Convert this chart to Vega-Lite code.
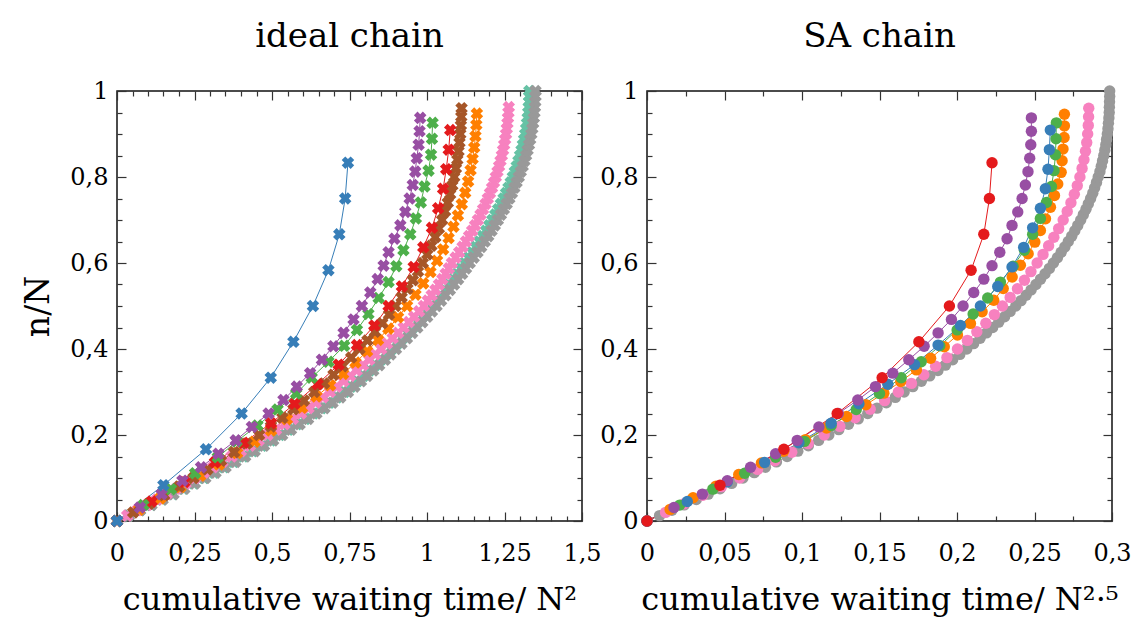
{
"$schema": "https://vega.github.io/schema/vega-lite/v6.json",
"background": "white",
"padding": {"left": 22, "top": 19, "right": 5, "bottom": 5},
"bounds": "flush",
"spacing": 65,
"config": {
  "font": "DejaVu Serif",
  "view": {"stroke": "#111111", "strokeWidth": 1.5},
  "axis": {"grid": false, "domain": false, "labelFont": "DejaVu Serif", "labelFontSize": 24, "labelColor": "black", "titleFont": "DejaVu Serif", "titleFontWeight": "normal", "titleColor": "black", "tickColor": "#333333", "tickWidth": 1.2, "labelOverlap": false, "labelFlush": false, "labelBound": false},
  "title": {"font": "DejaVu Serif", "fontSize": 34, "fontWeight": "normal", "color": "black"}
},
"datasets": {
"L": [
{"s":"t","x":0,"y":0},{"s":"t","x":0.0371,"y":0.0125},{"s":"t","x":0.0736,"y":0.025},{"s":"t","x":0.1096,"y":0.0375},{"s":"t","x":0.145,"y":0.05},{"s":"t","x":0.1798,"y":0.0625},{"s":"t","x":0.214,"y":0.075},{"s":"t","x":0.2476,"y":0.0875},{"s":"t","x":0.2807,"y":0.1},{"s":"t","x":0.3132,"y":0.1125},{"s":"t","x":0.3451,"y":0.125},{"s":"t","x":0.3765,"y":0.1375},{"s":"t","x":0.4073,"y":0.15},{"s":"t","x":0.4376,"y":0.1625},{"s":"t","x":0.4673,"y":0.175},{"s":"t","x":0.4964,"y":0.1875},{"s":"t","x":0.525,"y":0.2},{"s":"t","x":0.553,"y":0.2125},{"s":"t","x":0.5805,"y":0.225},{"s":"t","x":0.6074,"y":0.2375},{"s":"t","x":0.6338,"y":0.25},{"s":"t","x":0.6596,"y":0.2625},{"s":"t","x":0.6849,"y":0.275},{"s":"t","x":0.7097,"y":0.2875},{"s":"t","x":0.7339,"y":0.3},{"s":"t","x":0.7549,"y":0.3125},{"s":"t","x":0.7753,"y":0.325},{"s":"t","x":0.7952,"y":0.3375},{"s":"t","x":0.8145,"y":0.35},{"s":"t","x":0.8332,"y":0.3625},{"s":"t","x":0.8515,"y":0.375},{"s":"t","x":0.8692,"y":0.3875},{"s":"t","x":0.8865,"y":0.4},{"s":"t","x":0.9042,"y":0.4125},{"s":"t","x":0.9213,"y":0.425},{"s":"t","x":0.9381,"y":0.4375},{"s":"t","x":0.9544,"y":0.45},{"s":"t","x":0.9703,"y":0.4625},{"s":"t","x":0.9857,"y":0.475},{"s":"t","x":1.0008,"y":0.4875},{"s":"t","x":1.0154,"y":0.5},{"s":"t","x":1.03,"y":0.5125},{"s":"t","x":1.0441,"y":0.525},{"s":"t","x":1.0578,"y":0.5375},{"s":"t","x":1.0712,"y":0.55},{"s":"t","x":1.0842,"y":0.5625},{"s":"t","x":1.0969,"y":0.575},{"s":"t","x":1.1091,"y":0.5875},{"s":"t","x":1.1211,"y":0.6},{"s":"t","x":1.1337,"y":0.6125},{"s":"t","x":1.1457,"y":0.625},{"s":"t","x":1.1574,"y":0.6375},{"s":"t","x":1.1688,"y":0.65},{"s":"t","x":1.1798,"y":0.6625},{"s":"t","x":1.1903,"y":0.675},{"s":"t","x":1.2005,"y":0.6875},{"s":"t","x":1.2103,"y":0.7},{"s":"t","x":1.2201,"y":0.7125},{"s":"t","x":1.2294,"y":0.725},{"s":"t","x":1.2384,"y":0.7375},{"s":"t","x":1.2469,"y":0.75},{"s":"t","x":1.255,"y":0.7625},{"s":"t","x":1.2627,"y":0.775},{"s":"t","x":1.2699,"y":0.7875},{"s":"t","x":1.2768,"y":0.8},{"s":"t","x":1.2832,"y":0.8125},{"s":"t","x":1.2893,"y":0.825},{"s":"t","x":1.2949,"y":0.8375},{"s":"t","x":1.3001,"y":0.85},{"s":"t","x":1.3049,"y":0.8625},{"s":"t","x":1.3092,"y":0.875},{"s":"t","x":1.3132,"y":0.8875},{"s":"t","x":1.3167,"y":0.9},{"s":"t","x":1.3198,"y":0.9125},{"s":"t","x":1.3225,"y":0.925},{"s":"t","x":1.3248,"y":0.9375},{"s":"t","x":1.3267,"y":0.95},{"s":"t","x":1.3281,"y":0.9625},{"s":"t","x":1.3292,"y":0.975},{"s":"t","x":1.3298,"y":0.9875},{"s":"t","x":1.33,"y":1},
{"s":"a","x":0,"y":0},{"s":"a","x":0.0377,"y":0.0125},{"s":"a","x":0.0747,"y":0.025},{"s":"a","x":0.1113,"y":0.0375},{"s":"a","x":0.1472,"y":0.05},{"s":"a","x":0.1825,"y":0.0625},{"s":"a","x":0.2172,"y":0.075},{"s":"a","x":0.2514,"y":0.0875},{"s":"a","x":0.2849,"y":0.1},{"s":"a","x":0.3179,"y":0.1125},{"s":"a","x":0.3503,"y":0.125},{"s":"a","x":0.3822,"y":0.1375},{"s":"a","x":0.4135,"y":0.15},{"s":"a","x":0.4442,"y":0.1625},{"s":"a","x":0.4743,"y":0.175},{"s":"a","x":0.5039,"y":0.1875},{"s":"a","x":0.5329,"y":0.2},{"s":"a","x":0.5613,"y":0.2125},{"s":"a","x":0.5892,"y":0.225},{"s":"a","x":0.6165,"y":0.2375},{"s":"a","x":0.6433,"y":0.25},{"s":"a","x":0.6695,"y":0.2625},{"s":"a","x":0.6952,"y":0.275},{"s":"a","x":0.7203,"y":0.2875},{"s":"a","x":0.7449,"y":0.3},{"s":"a","x":0.7663,"y":0.3125},{"s":"a","x":0.787,"y":0.325},{"s":"a","x":0.8071,"y":0.3375},{"s":"a","x":0.8267,"y":0.35},{"s":"a","x":0.8458,"y":0.3625},{"s":"a","x":0.8643,"y":0.375},{"s":"a","x":0.8823,"y":0.3875},{"s":"a","x":0.8998,"y":0.4},{"s":"a","x":0.9178,"y":0.4125},{"s":"a","x":0.9352,"y":0.425},{"s":"a","x":0.9522,"y":0.4375},{"s":"a","x":0.9687,"y":0.45},{"s":"a","x":0.9849,"y":0.4625},{"s":"a","x":1.0006,"y":0.475},{"s":"a","x":1.0158,"y":0.4875},{"s":"a","x":1.0307,"y":0.5},{"s":"a","x":1.0454,"y":0.5125},{"s":"a","x":1.0598,"y":0.525},{"s":"a","x":1.0738,"y":0.5375},{"s":"a","x":1.0873,"y":0.55},{"s":"a","x":1.1005,"y":0.5625},{"s":"a","x":1.1133,"y":0.575},{"s":"a","x":1.1258,"y":0.5875},{"s":"a","x":1.1379,"y":0.6},{"s":"a","x":1.1507,"y":0.6125},{"s":"a","x":1.1629,"y":0.625},{"s":"a","x":1.1748,"y":0.6375},{"s":"a","x":1.1864,"y":0.65},{"s":"a","x":1.1975,"y":0.6625},{"s":"a","x":1.2082,"y":0.675},{"s":"a","x":1.2186,"y":0.6875},{"s":"a","x":1.2285,"y":0.7},{"s":"a","x":1.2384,"y":0.7125},{"s":"a","x":1.2479,"y":0.725},{"s":"a","x":1.257,"y":0.7375},{"s":"a","x":1.2656,"y":0.75},{"s":"a","x":1.2739,"y":0.7625},{"s":"a","x":1.2817,"y":0.775},{"s":"a","x":1.289,"y":0.7875},{"s":"a","x":1.296,"y":0.8},{"s":"a","x":1.3025,"y":0.8125},{"s":"a","x":1.3087,"y":0.825},{"s":"a","x":1.3144,"y":0.8375},{"s":"a","x":1.3196,"y":0.85},{"s":"a","x":1.3245,"y":0.8625},{"s":"a","x":1.3289,"y":0.875},{"s":"a","x":1.3329,"y":0.8875},{"s":"a","x":1.3365,"y":0.9},{"s":"a","x":1.3397,"y":0.9125},{"s":"a","x":1.3424,"y":0.925},{"s":"a","x":1.3447,"y":0.9375},{"s":"a","x":1.3466,"y":0.95},{"s":"a","x":1.3481,"y":0.9625},{"s":"a","x":1.3492,"y":0.975},{"s":"a","x":1.3498,"y":0.9875},{"s":"a","x":1.35,"y":1},
{"s":"k","x":0,"y":0},{"s":"k","x":0.033,"y":0.0125},{"s":"k","x":0.0655,"y":0.025},{"s":"k","x":0.0976,"y":0.0375},{"s":"k","x":0.1292,"y":0.05},{"s":"k","x":0.1603,"y":0.0625},{"s":"k","x":0.191,"y":0.075},{"s":"k","x":0.2213,"y":0.0875},{"s":"k","x":0.2511,"y":0.1},{"s":"k","x":0.2804,"y":0.1125},{"s":"k","x":0.3093,"y":0.125},{"s":"k","x":0.3398,"y":0.1375},{"s":"k","x":0.3698,"y":0.15},{"s":"k","x":0.3993,"y":0.1625},{"s":"k","x":0.4284,"y":0.175},{"s":"k","x":0.4571,"y":0.1875},{"s":"k","x":0.4853,"y":0.2},{"s":"k","x":0.513,"y":0.2125},{"s":"k","x":0.5403,"y":0.225},{"s":"k","x":0.5672,"y":0.2375},{"s":"k","x":0.5936,"y":0.25},{"s":"k","x":0.6176,"y":0.2625},{"s":"k","x":0.6411,"y":0.275},{"s":"k","x":0.6642,"y":0.2875},{"s":"k","x":0.6869,"y":0.3},{"s":"k","x":0.7091,"y":0.3125},{"s":"k","x":0.7308,"y":0.325},{"s":"k","x":0.7522,"y":0.3375},{"s":"k","x":0.7731,"y":0.35},{"s":"k","x":0.7935,"y":0.3625},{"s":"k","x":0.8135,"y":0.375},{"s":"k","x":0.8331,"y":0.3875},{"s":"k","x":0.8523,"y":0.4},{"s":"k","x":0.871,"y":0.4125},{"s":"k","x":0.8893,"y":0.425},{"s":"k","x":0.9071,"y":0.4375},{"s":"k","x":0.9246,"y":0.45},{"s":"k","x":0.9415,"y":0.4625},{"s":"k","x":0.9581,"y":0.475},{"s":"k","x":0.9742,"y":0.4875},{"s":"k","x":0.9899,"y":0.5},{"s":"k","x":1.0027,"y":0.5125},{"s":"k","x":1.0151,"y":0.525},{"s":"k","x":1.027,"y":0.5375},{"s":"k","x":1.0385,"y":0.55},{"s":"k","x":1.0496,"y":0.5625},{"s":"k","x":1.0603,"y":0.575},{"s":"k","x":1.0705,"y":0.5875},{"s":"k","x":1.0803,"y":0.6},{"s":"k","x":1.0922,"y":0.6125},{"s":"k","x":1.1037,"y":0.625},{"s":"k","x":1.1148,"y":0.6375},{"s":"k","x":1.1255,"y":0.65},{"s":"k","x":1.1357,"y":0.6625},{"s":"k","x":1.1456,"y":0.675},{"s":"k","x":1.155,"y":0.6875},{"s":"k","x":1.1641,"y":0.7},{"s":"k","x":1.1727,"y":0.7125},{"s":"k","x":1.1809,"y":0.725},{"s":"k","x":1.1888,"y":0.7375},{"s":"k","x":1.1962,"y":0.75},{"s":"k","x":1.2032,"y":0.7625},{"s":"k","x":1.2098,"y":0.775},{"s":"k","x":1.2161,"y":0.7875},{"s":"k","x":1.2219,"y":0.8},{"s":"k","x":1.2274,"y":0.8125},{"s":"k","x":1.2325,"y":0.825},{"s":"k","x":1.2372,"y":0.8375},{"s":"k","x":1.2415,"y":0.85},{"s":"k","x":1.2454,"y":0.8625},{"s":"k","x":1.2489,"y":0.875},{"s":"k","x":1.2521,"y":0.8875},{"s":"k","x":1.255,"y":0.9},{"s":"k","x":1.2574,"y":0.9125},{"s":"k","x":1.2595,"y":0.925},{"s":"k","x":1.2613,"y":0.9375},{"s":"k","x":1.2627,"y":0.95},{"s":"k","x":1.2637,"y":0.9625},
{"s":"o","x":0,"y":0},{"s":"o","x":0.0709,"y":0.0263},{"s":"o","x":0.1392,"y":0.0526},{"s":"o","x":0.205,"y":0.0789},{"s":"o","x":0.2683,"y":0.1053},{"s":"o","x":0.3291,"y":0.1316},{"s":"o","x":0.3874,"y":0.1579},{"s":"o","x":0.4433,"y":0.1842},{"s":"o","x":0.4968,"y":0.2105},{"s":"o","x":0.548,"y":0.2368},{"s":"o","x":0.5968,"y":0.2632},{"s":"o","x":0.6433,"y":0.2895},{"s":"o","x":0.6875,"y":0.3158},{"s":"o","x":0.7294,"y":0.3421},{"s":"o","x":0.7692,"y":0.3684},{"s":"o","x":0.8067,"y":0.3947},{"s":"o","x":0.8421,"y":0.4211},{"s":"o","x":0.8753,"y":0.4474},{"s":"o","x":0.9065,"y":0.4737},{"s":"o","x":0.9357,"y":0.5},{"s":"o","x":0.9628,"y":0.5263},{"s":"o","x":0.9879,"y":0.5526},{"s":"o","x":1.0111,"y":0.5789},{"s":"o","x":1.0324,"y":0.6053},{"s":"o","x":1.0519,"y":0.6316},{"s":"o","x":1.0696,"y":0.6579},{"s":"o","x":1.0855,"y":0.6842},{"s":"o","x":1.0997,"y":0.7105},{"s":"o","x":1.1122,"y":0.7368},{"s":"o","x":1.1232,"y":0.7632},{"s":"o","x":1.1326,"y":0.7895},{"s":"o","x":1.1406,"y":0.8158},{"s":"o","x":1.1471,"y":0.8421},{"s":"o","x":1.1523,"y":0.8684},{"s":"o","x":1.1563,"y":0.8947},{"s":"o","x":1.1591,"y":0.9211},{"s":"o","x":1.1609,"y":0.9474},
{"s":"n","x":0,"y":0},{"s":"n","x":0.0522,"y":0.02},{"s":"n","x":0.103,"y":0.04},{"s":"n","x":0.1523,"y":0.06},{"s":"n","x":0.2002,"y":0.08},{"s":"n","x":0.2466,"y":0.1},{"s":"n","x":0.2917,"y":0.12},{"s":"n","x":0.3354,"y":0.14},{"s":"n","x":0.3777,"y":0.16},{"s":"n","x":0.4186,"y":0.18},{"s":"n","x":0.4582,"y":0.2},{"s":"n","x":0.4964,"y":0.22},{"s":"n","x":0.5333,"y":0.24},{"s":"n","x":0.5689,"y":0.26},{"s":"n","x":0.6032,"y":0.28},{"s":"n","x":0.6362,"y":0.3},{"s":"n","x":0.6679,"y":0.32},{"s":"n","x":0.6984,"y":0.34},{"s":"n","x":0.7276,"y":0.36},{"s":"n","x":0.7555,"y":0.38},{"s":"n","x":0.7823,"y":0.4},{"s":"n","x":0.8079,"y":0.42},{"s":"n","x":0.8322,"y":0.44},{"s":"n","x":0.8554,"y":0.46},{"s":"n","x":0.8775,"y":0.48},{"s":"n","x":0.8984,"y":0.5},{"s":"n","x":0.9182,"y":0.52},{"s":"n","x":0.9368,"y":0.54},{"s":"n","x":0.9544,"y":0.56},{"s":"n","x":0.9709,"y":0.58},{"s":"n","x":0.9864,"y":0.6},{"s":"n","x":1.0008,"y":0.62},{"s":"n","x":1.0142,"y":0.64},{"s":"n","x":1.0267,"y":0.66},{"s":"n","x":1.0382,"y":0.68},{"s":"n","x":1.0487,"y":0.7},{"s":"n","x":1.0582,"y":0.72},{"s":"n","x":1.067,"y":0.74},{"s":"n","x":1.0747,"y":0.76},{"s":"n","x":1.0817,"y":0.78},{"s":"n","x":1.0879,"y":0.8},{"s":"n","x":1.0932,"y":0.82},{"s":"n","x":1.0978,"y":0.84},{"s":"n","x":1.1017,"y":0.86},{"s":"n","x":1.1048,"y":0.88},{"s":"n","x":1.1074,"y":0.9},{"s":"n","x":1.1093,"y":0.92},{"s":"n","x":1.1106,"y":0.94},{"s":"n","x":1.1115,"y":0.96},
{"s":"r","x":0,"y":0},{"s":"r","x":0.112,"y":0.0455},{"s":"r","x":0.2175,"y":0.0909},{"s":"r","x":0.316,"y":0.1364},{"s":"r","x":0.408,"y":0.1818},{"s":"r","x":0.497,"y":0.2273},{"s":"r","x":0.573,"y":0.2727},{"s":"r","x":0.647,"y":0.3182},{"s":"r","x":0.715,"y":0.3636},{"s":"r","x":0.774,"y":0.4091},{"s":"r","x":0.83,"y":0.4545},{"s":"r","x":0.876,"y":0.5},{"s":"r","x":0.919,"y":0.5455},{"s":"r","x":0.957,"y":0.5909},{"s":"r","x":0.988,"y":0.6364},{"s":"r","x":1.016,"y":0.6818},{"s":"r","x":1.036,"y":0.7273},{"s":"r","x":1.052,"y":0.7727},{"s":"r","x":1.062,"y":0.8182},{"s":"r","x":1.07,"y":0.8636},{"s":"r","x":1.075,"y":0.9091},
{"s":"g","x":0,"y":0},{"s":"g","x":0.085,"y":0.037},{"s":"g","x":0.174,"y":0.0741},{"s":"g","x":0.252,"y":0.1111},{"s":"g","x":0.325,"y":0.1481},{"s":"g","x":0.386,"y":0.1852},{"s":"g","x":0.453,"y":0.2222},{"s":"g","x":0.518,"y":0.2593},{"s":"g","x":0.578,"y":0.2963},{"s":"g","x":0.628,"y":0.3333},{"s":"g","x":0.682,"y":0.3704},{"s":"g","x":0.733,"y":0.4074},{"s":"g","x":0.774,"y":0.4444},{"s":"g","x":0.811,"y":0.4815},{"s":"g","x":0.844,"y":0.5185},{"s":"g","x":0.876,"y":0.5556},{"s":"g","x":0.901,"y":0.5926},{"s":"g","x":0.924,"y":0.6296},{"s":"g","x":0.946,"y":0.6667},{"s":"g","x":0.964,"y":0.7037},{"s":"g","x":0.98,"y":0.7407},{"s":"g","x":0.992,"y":0.7778},{"s":"g","x":1.005,"y":0.8148},{"s":"g","x":1.013,"y":0.8519},{"s":"g","x":1.016,"y":0.8889},{"s":"g","x":1.018,"y":0.9259},
{"s":"p","x":0,"y":0},{"s":"p","x":0.074,"y":0.0313},{"s":"p","x":0.144,"y":0.0625},{"s":"p","x":0.211,"y":0.0938},{"s":"p","x":0.271,"y":0.125},{"s":"p","x":0.327,"y":0.1563},{"s":"p","x":0.383,"y":0.1875},{"s":"p","x":0.435,"y":0.2188},{"s":"p","x":0.489,"y":0.25},{"s":"p","x":0.537,"y":0.2813},{"s":"p","x":0.58,"y":0.3125},{"s":"p","x":0.623,"y":0.3438},{"s":"p","x":0.661,"y":0.375},{"s":"p","x":0.698,"y":0.4063},{"s":"p","x":0.731,"y":0.4375},{"s":"p","x":0.763,"y":0.4688},{"s":"p","x":0.79,"y":0.5},{"s":"p","x":0.817,"y":0.5313},{"s":"p","x":0.841,"y":0.5625},{"s":"p","x":0.86,"y":0.5938},{"s":"p","x":0.876,"y":0.625},{"s":"p","x":0.895,"y":0.6563},{"s":"p","x":0.914,"y":0.6875},{"s":"p","x":0.93,"y":0.7188},{"s":"p","x":0.944,"y":0.75},{"s":"p","x":0.954,"y":0.7813},{"s":"p","x":0.962,"y":0.8125},{"s":"p","x":0.967,"y":0.8438},{"s":"p","x":0.973,"y":0.875},{"s":"p","x":0.976,"y":0.9063},{"s":"p","x":0.978,"y":0.9375},
{"s":"b","x":0,"y":0},{"s":"b","x":0.1496,"y":0.0833},{"s":"b","x":0.287,"y":0.1667},{"s":"b","x":0.402,"y":0.25},{"s":"b","x":0.496,"y":0.3333},{"s":"b","x":0.569,"y":0.4167},{"s":"b","x":0.632,"y":0.5},{"s":"b","x":0.682,"y":0.5833},{"s":"b","x":0.717,"y":0.6667},{"s":"b","x":0.736,"y":0.75},{"s":"b","x":0.745,"y":0.8333}
],
"R": [
{"s":"a","x":0,"y":0},{"s":"a","x":0.0081,"y":0.0125},{"s":"a","x":0.0161,"y":0.025},{"s":"a","x":0.024,"y":0.0375},{"s":"a","x":0.0318,"y":0.05},{"s":"a","x":0.0395,"y":0.0625},{"s":"a","x":0.0471,"y":0.075},{"s":"a","x":0.0546,"y":0.0875},{"s":"a","x":0.0619,"y":0.1},{"s":"a","x":0.0692,"y":0.1125},{"s":"a","x":0.0764,"y":0.125},{"s":"a","x":0.0835,"y":0.1375},{"s":"a","x":0.0904,"y":0.15},{"s":"a","x":0.0973,"y":0.1625},{"s":"a","x":0.1041,"y":0.175},{"s":"a","x":0.1107,"y":0.1875},{"s":"a","x":0.1173,"y":0.2},{"s":"a","x":0.1237,"y":0.2125},{"s":"a","x":0.13,"y":0.225},{"s":"a","x":0.1363,"y":0.2375},{"s":"a","x":0.1424,"y":0.25},{"s":"a","x":0.1484,"y":0.2625},{"s":"a","x":0.1544,"y":0.275},{"s":"a","x":0.1602,"y":0.2875},{"s":"a","x":0.1659,"y":0.3},{"s":"a","x":0.1715,"y":0.3125},{"s":"a","x":0.177,"y":0.325},{"s":"a","x":0.1824,"y":0.3375},{"s":"a","x":0.1877,"y":0.35},{"s":"a","x":0.1925,"y":0.3625},{"s":"a","x":0.1972,"y":0.375},{"s":"a","x":0.2018,"y":0.3875},{"s":"a","x":0.2063,"y":0.4},{"s":"a","x":0.2107,"y":0.4125},{"s":"a","x":0.2149,"y":0.425},{"s":"a","x":0.219,"y":0.4375},{"s":"a","x":0.223,"y":0.45},{"s":"a","x":0.2269,"y":0.4625},{"s":"a","x":0.2307,"y":0.475},{"s":"a","x":0.2343,"y":0.4875},{"s":"a","x":0.2379,"y":0.5},{"s":"a","x":0.2413,"y":0.5125},{"s":"a","x":0.2446,"y":0.525},{"s":"a","x":0.2478,"y":0.5375},{"s":"a","x":0.2509,"y":0.55},{"s":"a","x":0.2539,"y":0.5625},{"s":"a","x":0.2568,"y":0.575},{"s":"a","x":0.2596,"y":0.5875},{"s":"a","x":0.2622,"y":0.6},{"s":"a","x":0.2648,"y":0.6125},{"s":"a","x":0.2672,"y":0.625},{"s":"a","x":0.2696,"y":0.6375},{"s":"a","x":0.2718,"y":0.65},{"s":"a","x":0.274,"y":0.6625},{"s":"a","x":0.276,"y":0.675},{"s":"a","x":0.2779,"y":0.6875},{"s":"a","x":0.2798,"y":0.7},{"s":"a","x":0.2815,"y":0.7125},{"s":"a","x":0.2832,"y":0.725},{"s":"a","x":0.2847,"y":0.7375},{"s":"a","x":0.2862,"y":0.75},{"s":"a","x":0.2876,"y":0.7625},{"s":"a","x":0.2888,"y":0.775},{"s":"a","x":0.29,"y":0.7875},{"s":"a","x":0.2911,"y":0.8},{"s":"a","x":0.2922,"y":0.8125},{"s":"a","x":0.2931,"y":0.825},{"s":"a","x":0.2939,"y":0.8375},{"s":"a","x":0.2947,"y":0.85},{"s":"a","x":0.2954,"y":0.8625},{"s":"a","x":0.296,"y":0.875},{"s":"a","x":0.2965,"y":0.8875},{"s":"a","x":0.297,"y":0.9},{"s":"a","x":0.2974,"y":0.9125},{"s":"a","x":0.2977,"y":0.925},{"s":"a","x":0.298,"y":0.9375},{"s":"a","x":0.2982,"y":0.95},{"s":"a","x":0.2983,"y":0.9625},{"s":"a","x":0.2984,"y":0.975},{"s":"a","x":0.2985,"y":0.9875},{"s":"a","x":0.2985,"y":1},
{"s":"k","x":0,"y":0},{"s":"k","x":0.012,"y":0.02},{"s":"k","x":0.024,"y":0.04},{"s":"k","x":0.036,"y":0.06},{"s":"k","x":0.048,"y":0.08},{"s":"k","x":0.0598,"y":0.1},{"s":"k","x":0.0713,"y":0.12},{"s":"k","x":0.0825,"y":0.14},{"s":"k","x":0.0934,"y":0.16},{"s":"k","x":0.104,"y":0.18},{"s":"k","x":0.1143,"y":0.2},{"s":"k","x":0.1244,"y":0.22},{"s":"k","x":0.1343,"y":0.24},{"s":"k","x":0.144,"y":0.26},{"s":"k","x":0.1533,"y":0.28},{"s":"k","x":0.1622,"y":0.3},{"s":"k","x":0.1706,"y":0.32},{"s":"k","x":0.1786,"y":0.34},{"s":"k","x":0.1862,"y":0.36},{"s":"k","x":0.1935,"y":0.38},{"s":"k","x":0.2003,"y":0.4},{"s":"k","x":0.2067,"y":0.42},{"s":"k","x":0.2128,"y":0.44},{"s":"k","x":0.2186,"y":0.46},{"s":"k","x":0.2241,"y":0.48},{"s":"k","x":0.2293,"y":0.5},{"s":"k","x":0.2343,"y":0.52},{"s":"k","x":0.239,"y":0.54},{"s":"k","x":0.2435,"y":0.56},{"s":"k","x":0.2477,"y":0.58},{"s":"k","x":0.2517,"y":0.6},{"s":"k","x":0.2555,"y":0.62},{"s":"k","x":0.2591,"y":0.64},{"s":"k","x":0.2625,"y":0.66},{"s":"k","x":0.2656,"y":0.68},{"s":"k","x":0.2685,"y":0.7},{"s":"k","x":0.2711,"y":0.72},{"s":"k","x":0.2735,"y":0.74},{"s":"k","x":0.2757,"y":0.76},{"s":"k","x":0.2776,"y":0.78},{"s":"k","x":0.2793,"y":0.8},{"s":"k","x":0.2807,"y":0.82},{"s":"k","x":0.2819,"y":0.84},{"s":"k","x":0.2829,"y":0.86},{"s":"k","x":0.2837,"y":0.88},{"s":"k","x":0.2843,"y":0.9},{"s":"k","x":0.2847,"y":0.92},{"s":"k","x":0.2849,"y":0.94},{"s":"k","x":0.285,"y":0.96},
{"s":"o","x":0,"y":0},{"s":"o","x":0.0149,"y":0.027},{"s":"o","x":0.0297,"y":0.0541},{"s":"o","x":0.0445,"y":0.0811},{"s":"o","x":0.0592,"y":0.1081},{"s":"o","x":0.0738,"y":0.1351},{"s":"o","x":0.0882,"y":0.1622},{"s":"o","x":0.1022,"y":0.1892},{"s":"o","x":0.1158,"y":0.2162},{"s":"o","x":0.1288,"y":0.2432},{"s":"o","x":0.1412,"y":0.2703},{"s":"o","x":0.1528,"y":0.2973},{"s":"o","x":0.1637,"y":0.3243},{"s":"o","x":0.1738,"y":0.3514},{"s":"o","x":0.183,"y":0.3784},{"s":"o","x":0.1918,"y":0.4054},{"s":"o","x":0.2003,"y":0.4324},{"s":"o","x":0.2087,"y":0.4595},{"s":"o","x":0.2162,"y":0.4865},{"s":"o","x":0.2237,"y":0.5135},{"s":"o","x":0.2298,"y":0.5405},{"s":"o","x":0.2356,"y":0.5676},{"s":"o","x":0.2409,"y":0.5946},{"s":"o","x":0.2459,"y":0.6216},{"s":"o","x":0.2502,"y":0.6486},{"s":"o","x":0.2538,"y":0.6757},{"s":"o","x":0.2571,"y":0.7027},{"s":"o","x":0.2603,"y":0.7297},{"s":"o","x":0.2629,"y":0.7568},{"s":"o","x":0.265,"y":0.7838},{"s":"o","x":0.2672,"y":0.8108},{"s":"o","x":0.2678,"y":0.8378},{"s":"o","x":0.2684,"y":0.8649},{"s":"o","x":0.2691,"y":0.8919},{"s":"o","x":0.2693,"y":0.9189},{"s":"o","x":0.2693,"y":0.9459},
{"s":"g","x":0,"y":0},{"s":"g","x":0.0211,"y":0.037},{"s":"g","x":0.0425,"y":0.0741},{"s":"g","x":0.063,"y":0.1111},{"s":"g","x":0.083,"y":0.1481},{"s":"g","x":0.1016,"y":0.1852},{"s":"g","x":0.1188,"y":0.2222},{"s":"g","x":0.135,"y":0.2593},{"s":"g","x":0.15,"y":0.2963},{"s":"g","x":0.164,"y":0.3333},{"s":"g","x":0.1769,"y":0.3704},{"s":"g","x":0.1889,"y":0.4074},{"s":"g","x":0.2001,"y":0.4444},{"s":"g","x":0.2104,"y":0.4815},{"s":"g","x":0.2198,"y":0.5185},{"s":"g","x":0.228,"y":0.5556},{"s":"g","x":0.2362,"y":0.5926},{"s":"g","x":0.2435,"y":0.6296},{"s":"g","x":0.2488,"y":0.6667},{"s":"g","x":0.2538,"y":0.7037},{"s":"g","x":0.2577,"y":0.7407},{"s":"g","x":0.2609,"y":0.7778},{"s":"g","x":0.2626,"y":0.8148},{"s":"g","x":0.2635,"y":0.8519},{"s":"g","x":0.2639,"y":0.8889},{"s":"g","x":0.2641,"y":0.9259},
{"s":"b","x":0,"y":0},{"s":"b","x":0.026,"y":0.0455},{"s":"b","x":0.0518,"y":0.0909},{"s":"b","x":0.0759,"y":0.1364},{"s":"b","x":0.098,"y":0.1818},{"s":"b","x":0.1188,"y":0.2273},{"s":"b","x":0.1367,"y":0.2727},{"s":"b","x":0.1554,"y":0.3182},{"s":"b","x":0.1726,"y":0.3636},{"s":"b","x":0.1878,"y":0.4091},{"s":"b","x":0.2022,"y":0.4545},{"s":"b","x":0.2151,"y":0.5},{"s":"b","x":0.2263,"y":0.5455},{"s":"b","x":0.2355,"y":0.5909},{"s":"b","x":0.243,"y":0.6364},{"s":"b","x":0.2488,"y":0.6818},{"s":"b","x":0.2538,"y":0.7273},{"s":"b","x":0.257,"y":0.7727},{"s":"b","x":0.2587,"y":0.8182},{"s":"b","x":0.2596,"y":0.8636},{"s":"b","x":0.2602,"y":0.9091},
{"s":"p","x":0,"y":0},{"s":"p","x":0.0174,"y":0.0313},{"s":"p","x":0.0357,"y":0.0625},{"s":"p","x":0.0518,"y":0.0938},{"s":"p","x":0.0668,"y":0.125},{"s":"p","x":0.083,"y":0.1563},{"s":"p","x":0.0969,"y":0.1875},{"s":"p","x":0.1109,"y":0.2188},{"s":"p","x":0.1234,"y":0.25},{"s":"p","x":0.136,"y":0.2813},{"s":"p","x":0.1474,"y":0.3125},{"s":"p","x":0.1586,"y":0.3438},{"s":"p","x":0.1689,"y":0.375},{"s":"p","x":0.1788,"y":0.4063},{"s":"p","x":0.1878,"y":0.4375},{"s":"p","x":0.1964,"y":0.4688},{"s":"p","x":0.2039,"y":0.5},{"s":"p","x":0.2108,"y":0.5313},{"s":"p","x":0.2173,"y":0.5625},{"s":"p","x":0.2226,"y":0.5938},{"s":"p","x":0.2276,"y":0.625},{"s":"p","x":0.2323,"y":0.6563},{"s":"p","x":0.2355,"y":0.6875},{"s":"p","x":0.2392,"y":0.7188},{"s":"p","x":0.242,"y":0.75},{"s":"p","x":0.2441,"y":0.7813},{"s":"p","x":0.2458,"y":0.8125},{"s":"p","x":0.2469,"y":0.8438},{"s":"p","x":0.2476,"y":0.875},{"s":"p","x":0.248,"y":0.9063},{"s":"p","x":0.248,"y":0.9375},
{"s":"r","x":0,"y":0},{"s":"r","x":0.0471,"y":0.0833},{"s":"r","x":0.0883,"y":0.1667},{"s":"r","x":0.1227,"y":0.25},{"s":"r","x":0.1517,"y":0.3333},{"s":"r","x":0.1754,"y":0.4167},{"s":"r","x":0.1951,"y":0.5},{"s":"r","x":0.2091,"y":0.5833},{"s":"r","x":0.2173,"y":0.6667},{"s":"r","x":0.2209,"y":0.75},{"s":"r","x":0.2226,"y":0.8333}
]
},
"hconcat": [
{
  "width": 465, "height": 430,
  "title": {"text": "ideal chain", "anchor": "middle", "frame": "group", "baseline": "alphabetic", "offset": -2},
  "data": {"name": "L"},
  "encoding": {"color": {"field": "s", "type": "nominal", "legend": null, "scale": {"domain": ["b","r","g","p","o","n","k","a","t"], "range": ["#377eb8","#e41a1c","#4daf4a","#984ea3","#ff7f00","#a65628","#f781bf","#999999","#66c2a5"]}}},
  "layer": [
    {"mark": {"type": "line", "strokeWidth": 1},
     "encoding": {
       "x": {"field": "x", "type": "quantitative", "scale": {"domain": [0, 1.5], "nice": false},
             "axis": {"orient": "top", "values": [0,0.05,0.1,0.15,0.2,0.25,0.3,0.35,0.4,0.45,0.5,0.55,0.6,0.65,0.7,0.75,0.8,0.85,0.9,0.95,1,1.05,1.1,1.15,1.2,1.25,1.3,1.35,1.4,1.45,1.5], "labels": false, "title": null,
                      "tickSize": {"condition": {"test": "abs(datum.value*4-round(datum.value*4))<0.001", "value": -9}, "value": -5}}},
       "y": {"field": "y", "type": "quantitative", "scale": {"domain": [0, 1], "nice": false},
             "axis": {"orient": "right", "values": [0,0.05,0.1,0.15,0.2,0.25,0.3,0.35,0.4,0.45,0.5,0.55,0.6,0.65,0.7,0.75,0.8,0.85,0.9,0.95,1], "labels": false, "title": null,
                      "tickSize": {"condition": {"test": "abs(datum.value*5-round(datum.value*5))<0.001", "value": -9}, "value": -5}}},
       "order": {"field": "y", "type": "quantitative"}
     }},
    {"mark": {"type": "point", "shape": "cross", "angle": 45, "filled": true, "size": 160, "opacity": 1},
     "encoding": {
       "x": {"field": "x", "type": "quantitative", "scale": {"domain": [0, 1.5], "nice": false},
             "axis": {"orient": "bottom", "values": [0,0.05,0.1,0.15,0.2,0.25,0.3,0.35,0.4,0.45,0.5,0.55,0.6,0.65,0.7,0.75,0.8,0.85,0.9,0.95,1,1.05,1.1,1.15,1.2,1.25,1.3,1.35,1.4,1.45,1.5],
                      "labelExpr": "abs(datum.value*4-round(datum.value*4))<0.001 ? replace(format(datum.value,'~g'),'.',',') : ''",
                      "tickSize": {"condition": {"test": "abs(datum.value*4-round(datum.value*4))<0.001", "value": -9}, "value": -5},
                      "labelPadding": 29, "title": "cumulative waiting time/ N²", "titleFontSize": 32, "titlePadding": 15}},
       "y": {"field": "y", "type": "quantitative", "scale": {"domain": [0, 1], "nice": false},
             "axis": {"orient": "left", "values": [0,0.05,0.1,0.15,0.2,0.25,0.3,0.35,0.4,0.45,0.5,0.55,0.6,0.65,0.7,0.75,0.8,0.85,0.9,0.95,1],
                      "labelExpr": "abs(datum.value*5-round(datum.value*5))<0.001 ? replace(format(datum.value,'~g'),'.',',') : ''",
                      "tickSize": {"condition": {"test": "abs(datum.value*5-round(datum.value*5))<0.001", "value": -9}, "value": -5},
                      "labelPadding": 18, "title": "n/N", "titleFontSize": 33, "titlePadding": 14}}
     }}
  ],
  "resolve": {"axis": {"x": "independent", "y": "independent"}}
},
{
  "width": 465, "height": 430,
  "title": {"text": "SA chain", "anchor": "middle", "frame": "group", "baseline": "alphabetic", "offset": -2},
  "data": {"name": "R"},
  "encoding": {"color": {"field": "s", "type": "nominal", "legend": null, "scale": {"domain": ["b","r","g","p","o","k","a"], "range": ["#377eb8","#e41a1c","#4daf4a","#984ea3","#ff7f00","#f781bf","#999999"]}}},
  "layer": [
    {"mark": {"type": "line", "strokeWidth": 1},
     "encoding": {
       "x": {"field": "x", "type": "quantitative", "scale": {"domain": [0, 0.3], "nice": false},
             "axis": {"orient": "top", "values": [0,0.025,0.05,0.075,0.1,0.125,0.15,0.175,0.2,0.225,0.25,0.275,0.3], "labels": false, "title": null,
                      "tickSize": {"condition": {"test": "abs(datum.value*20-round(datum.value*20))<0.001", "value": -9}, "value": -5}}},
       "y": {"field": "y", "type": "quantitative", "scale": {"domain": [0, 1], "nice": false},
             "axis": {"orient": "right", "values": [0,0.05,0.1,0.15,0.2,0.25,0.3,0.35,0.4,0.45,0.5,0.55,0.6,0.65,0.7,0.75,0.8,0.85,0.9,0.95,1], "labels": false, "title": null,
                      "tickSize": {"condition": {"test": "abs(datum.value*5-round(datum.value*5))<0.001", "value": -9}, "value": -5}}},
       "order": {"field": "y", "type": "quantitative"}
     }},
    {"mark": {"type": "point", "shape": "circle", "filled": true, "size": 130, "opacity": 1},
     "encoding": {
       "x": {"field": "x", "type": "quantitative", "scale": {"domain": [0, 0.3], "nice": false},
             "axis": {"orient": "bottom", "values": [0,0.025,0.05,0.075,0.1,0.125,0.15,0.175,0.2,0.225,0.25,0.275,0.3],
                      "labelExpr": "abs(datum.value*20-round(datum.value*20))<0.001 ? replace(format(datum.value,'~g'),'.',',') : ''",
                      "tickSize": {"condition": {"test": "abs(datum.value*20-round(datum.value*20))<0.001", "value": -9}, "value": -5},
                      "labelPadding": 29, "title": "cumulative waiting time/ N²·⁵", "titleFontSize": 32, "titlePadding": 15}},
       "y": {"field": "y", "type": "quantitative", "scale": {"domain": [0, 1], "nice": false},
             "axis": {"orient": "left", "values": [0,0.05,0.1,0.15,0.2,0.25,0.3,0.35,0.4,0.45,0.5,0.55,0.6,0.65,0.7,0.75,0.8,0.85,0.9,0.95,1],
                      "labelExpr": "abs(datum.value*5-round(datum.value*5))<0.001 ? replace(format(datum.value,'~g'),'.',',') : ''",
                      "tickSize": {"condition": {"test": "abs(datum.value*5-round(datum.value*5))<0.001", "value": -9}, "value": -5},
                      "labelPadding": 18, "title": null}}
     }}
  ],
  "resolve": {"axis": {"x": "independent", "y": "independent"}}
}
]
}
